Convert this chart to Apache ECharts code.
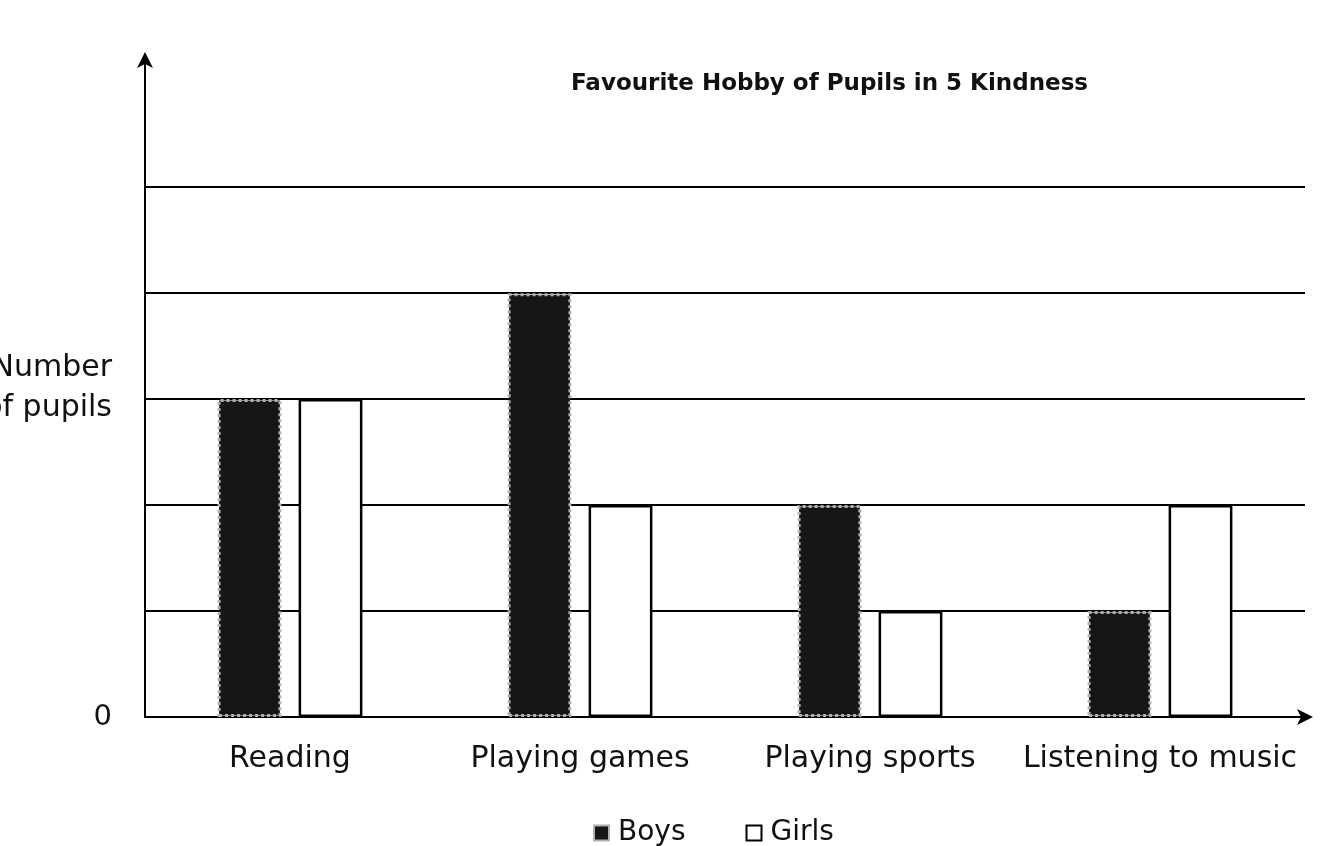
<!DOCTYPE html>
<html>
<head>
<meta charset="utf-8">
<script src="https://cdn.jsdelivr.net/npm/echarts@6/dist/echarts.min.js"></script>
<style>
html,body{margin:0;padding:0;background:#fff;}
#chart{width:1323px;height:846px;}
</style>
</head>
<body>
<div id="chart"></div>
<script>
const categories = ['Reading', 'Playing games', 'Playing sports', 'Listening to music'];
const boys = [3, 4, 2, 1];
const girls = [3, 2, 1, 2];
const seriesNames = ['Boys', 'Girls'];
const yTickLabels = ['0', '', '', '', '', '', ''];
const titleText = 'Favourite Hobby of Pupils in 5 Kindness';
const yAxisName = 'Number\nof pupils';

const chart = echarts.init(document.getElementById('chart'));
const font = 'DejaVu Sans';
chart.setOption({
  backgroundColor: '#fff',
  animation: false,
  title: {
    text: titleText,
    left: 566,
    top: 68,
    textStyle: { fontFamily: font, fontSize: 23, fontWeight: 'bold', color: '#111' }
  },
  legend: {
    data: seriesNames,
    left: 588,
    top: 814,
    itemWidth: 15,
    itemHeight: 15,
    itemGap: 60,
    icon: 'rect',
    textStyle: { fontFamily: font, fontSize: 28, color: '#111', padding: [0, 0, 0, 4] }
  },
  grid: { left: 145, right: 18, top: 60, bottom: 129, containLabel: false, outerBoundsMode: 'none' },
  xAxis: {
    type: 'category',
    data: categories,
    axisLine: { show: true, lineStyle: { color: '#000', width: 2 }, symbol: ['none', 'arrow'], symbolSize: [12, 16], symbolOffset: [0, 8] },
    axisTick: { show: false },
    axisLabel: { fontFamily: font, fontSize: 30, color: '#111', margin: 27, interval: 0 },
    splitLine: { show: false }
  },
  yAxis: {
    type: 'value',
    min: 0,
    max: 6.2,
    interval: 1,
    name: yAxisName,
    nameLocation: 'middle',
    nameRotate: 0,
    nameGap: 33,
    nameMoveOverlap: false,
    nameTextStyle: { fontFamily: font, fontSize: 30, color: '#111', lineHeight: 40, align: 'right', padding: [0, 0, -12, 0] },
    axisLine: { show: true, lineStyle: { color: '#000', width: 2 }, symbol: ['none', 'arrow'], symbolSize: [12, 16], symbolOffset: [0, 8] },
    axisTick: { show: false },
    axisLabel: {
      fontFamily: font, fontSize: 29, color: '#111', margin: 33,
      formatter: function (v) { const i = Math.round(v); return (Math.abs(v - i) < 1e-6 && yTickLabels[i] !== undefined) ? yTickLabels[i] : ''; }
    },
    splitLine: { show: true, lineStyle: { color: ['#000', '#000', '#000', '#000', '#000', '#000', 'rgba(0,0,0,0)', 'rgba(0,0,0,0)'], width: 2 } }
  },
  series: [
    {
      name: seriesNames[0],
      type: 'bar',
      data: boys,
      barWidth: '22%',
      barGap: '27%',
      z: 3,
      itemStyle: { color: '#161616', borderColor: '#b0b0b0', borderWidth: 3, borderType: 'dotted' }
    },
    {
      name: seriesNames[1],
      type: 'bar',
      data: girls,
      barWidth: '22%',
      barGap: '27%',
      z: 3,
      itemStyle: { color: '#fff', borderColor: '#000', borderWidth: 2.5 }
    }
  ]
});
</script>
</body>
</html>
